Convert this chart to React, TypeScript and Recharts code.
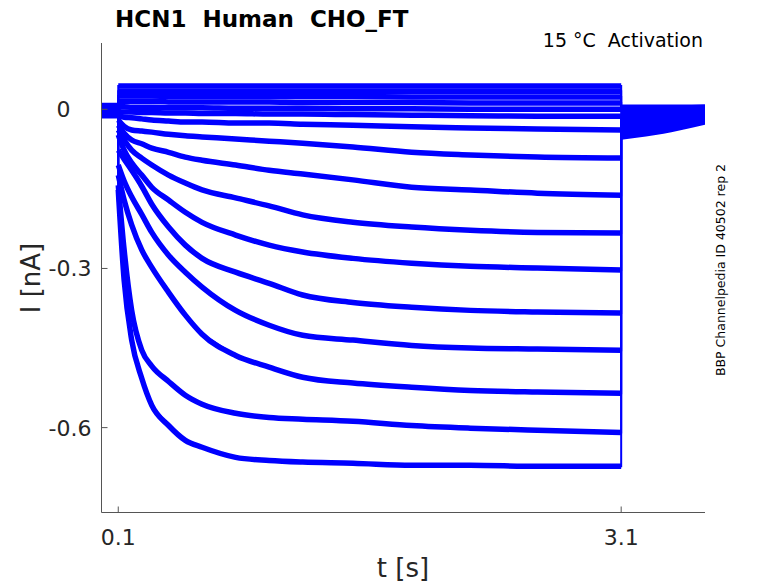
import { LineChart, Line, XAxis, YAxis } from 'recharts'

// time base of the recording [s]
const preTimes = [0, 0.1]
const stepTimes = [0.1, 0.135, 0.18, 0.24, 0.3, 0.4, 0.5, 0.6, 0.8, 1.0, 1.2, 1.5, 1.85, 2.2, 2.6, 3.1]
const tailTimes = [3.1, 3.35, 3.6]

// current during the activation step [nA], sweeps ordered from top to bottom
const sweep01 = [0.044, 0.044, 0.044, 0.044, 0.044, 0.044, 0.044, 0.044, 0.044, 0.044, 0.044, 0.044, 0.044, 0.044, 0.044, 0.044]
const sweep02 = [0.034, 0.034, 0.034, 0.034, 0.034, 0.034, 0.034, 0.034, 0.034, 0.034, 0.034, 0.034, 0.034, 0.034, 0.034, 0.034]
const sweep03 = [0.025, 0.025, 0.025, 0.025, 0.025, 0.024, 0.024, 0.024, 0.024, 0.024, 0.024, 0.024, 0.023, 0.023, 0.023, 0.023]
const sweep04 = [0.015, 0.015, 0.015, 0.015, 0.015, 0.014, 0.014, 0.014, 0.014, 0.014, 0.013, 0.013, 0.013, 0.012, 0.012, 0.012]
const sweep05 = [0.005, 0.005, 0.004, 0.004, 0.004, 0.003, 0.003, 0.003, 0.002, 0.002, 0.002, 0.001, 0.001, 0.0, 0.0, 0.0]
const sweep06 = [-0.004, -0.005, -0.005, -0.006, -0.006, -0.007, -0.007, -0.008, -0.008, -0.009, -0.009, -0.01, -0.011, -0.012, -0.013, -0.013]
const sweep07 = [-0.011, -0.015, -0.016, -0.018, -0.02, -0.022, -0.024, -0.024, -0.026, -0.026, -0.028, -0.03, -0.033, -0.035, -0.037, -0.039]
const sweep08 = [-0.02, -0.032, -0.039, -0.041, -0.043, -0.047, -0.05, -0.052, -0.056, -0.06, -0.064, -0.071, -0.081, -0.086, -0.09, -0.092]
const sweep09 = [-0.03, -0.045, -0.058, -0.065, -0.073, -0.081, -0.09, -0.096, -0.105, -0.115, -0.122, -0.133, -0.147, -0.152, -0.158, -0.162]
const sweep10 = [-0.039, -0.058, -0.077, -0.092, -0.105, -0.124, -0.139, -0.152, -0.167, -0.182, -0.199, -0.213, -0.222, -0.228, -0.232, -0.233]
const sweep11 = [-0.048, -0.077, -0.101, -0.124, -0.147, -0.171, -0.194, -0.213, -0.237, -0.256, -0.269, -0.281, -0.29, -0.296, -0.299, -0.303]
const sweep12 = [-0.077, -0.094, -0.115, -0.145, -0.179, -0.222, -0.256, -0.281, -0.307, -0.328, -0.35, -0.364, -0.373, -0.379, -0.382, -0.384]
const sweep13 = [-0.105, -0.135, -0.165, -0.198, -0.232, -0.275, -0.307, -0.335, -0.379, -0.407, -0.426, -0.435, -0.445, -0.45, -0.452, -0.454]
const sweep14 = [-0.124, -0.171, -0.218, -0.265, -0.298, -0.345, -0.388, -0.424, -0.464, -0.486, -0.505, -0.516, -0.524, -0.53, -0.533, -0.535]
const sweep15 = [-0.143, -0.265, -0.379, -0.454, -0.484, -0.513, -0.539, -0.556, -0.573, -0.581, -0.584, -0.588, -0.596, -0.601, -0.605, -0.609]
const sweep16 = [-0.152, -0.322, -0.435, -0.507, -0.558, -0.596, -0.624, -0.637, -0.656, -0.662, -0.665, -0.667, -0.671, -0.671, -0.673, -0.673]

const sweeps = [
  sweep01, sweep02, sweep03, sweep04, sweep05, sweep06, sweep07, sweep08,
  sweep09, sweep10, sweep11, sweep12, sweep13, sweep14, sweep15, sweep16,
]

// holding current before the step, and tail current after it [nA]
const preLevel = [0.004, -0.002, 0.006, -0.008, 0.001, -0.011, 0.003, -0.005, 0.007, -0.003, -0.009, 0.002, -0.006, 0.005, -0.001, -0.012]
const tailStart = [0.004, 0.002, 0.001, -0.001, -0.003, -0.007, -0.011, -0.015, -0.02, -0.024, -0.03, -0.033, -0.039, -0.043, -0.048, -0.052]
const tailMid = [0.004, 0.002, 0.002, 0.001, -0.001, -0.003, -0.007, -0.011, -0.015, -0.019, -0.022, -0.026, -0.03, -0.033, -0.037, -0.041]
const tailEnd = [0.004, 0.004, 0.002, 0.002, 0.001, -0.001, -0.003, -0.005, -0.007, -0.011, -0.013, -0.015, -0.018, -0.02, -0.022, -0.024]

const xTicks = [0.1, 3.1]
const xTickLabels = ['0.1', '3.1']
const yTicks = [-0.6, -0.3, 0]
const yTickLabels = ['-0.6', '-0.3', '0\u00a0\u00a0\u00a0']

const W = 778
const H = 583
const BLUE = '#0000ff'
const AXIS = '#555555'
const FONT = 'DejaVu Sans'

type Row = { t: number; [key: string]: number | null }

// thick keys (s#) break at the voltage jumps, thin keys (j#) draw the jumps
function buildRows(): Row[] {
  const rows: Row[] = []
  const push = (t: number, thick: (i: number) => number | null, thin: (i: number) => number) => {
    const row: Row = { t }
    sweeps.forEach((_, i) => {
      row[`s${i}`] = thick(i)
      row[`j${i}`] = thin(i)
    })
    rows.push(row)
  }
  preTimes.forEach((t) => push(t, (i) => preLevel[i], (i) => preLevel[i]))
  push(0.1, () => null, (i) => preLevel[i])
  stepTimes.forEach((t, k) => push(t, (i) => sweeps[i][k], (i) => sweeps[i][k]))
  push(3.1, () => null, (i) => sweeps[i][stepTimes.length - 1])
  const tails = [tailStart, tailMid, tailEnd]
  tailTimes.forEach((t, k) => push(t, (i) => tails[k][i], (i) => tails[k][i]))
  return rows
}

const data = buildRows()

const YTick = (props: any) => {
  const { x, y, payload } = props
  const label = yTickLabels[yTicks.indexOf(payload.value)]
  return (
    <text x={x} y={y} dy="0.36em" textAnchor="end" fill="#262626" fontSize={22} fontFamily={FONT}>
      {label}
    </text>
  )
}

const XTick = (props: any) => {
  const { x, y, payload } = props
  const label = xTickLabels[xTicks.indexOf(payload.value)]
  return (
    <text x={x} y={y} dy="0.71em" textAnchor="middle" fill="#262626" fontSize={22} fontFamily={FONT}>
      {label}
    </text>
  )
}

export default function App() {
  return (
    <div style={{ position: 'absolute', left: 0, top: 0, width: W, height: H, background: '#fff' }}>
      <LineChart width={W} height={H} data={data} margin={{ top: 43, right: 73, bottom: 0, left: 0 }}>
        <XAxis
          dataKey="t"
          type="number"
          domain={[0, 3.6]}
          ticks={xTicks}
          height={70.5}
          tickSize={-6}
          tickMargin={22.5}
          tick={<XTick />}
          axisLine={{ stroke: AXIS }}
          tickLine={{ stroke: AXIS }}
          allowDataOverflow
        />
        <YAxis
          type="number"
          domain={[-0.76, 0.125]}
          ticks={yTicks}
          width={101.5}
          tickSize={-6}
          tickMargin={16}
          tick={<YTick />}
          axisLine={{ stroke: AXIS }}
          tickLine={{ stroke: AXIS }}
          allowDataOverflow
        />
        {sweeps.map((_, i) => (
          <Line
            key={`j${i}`}
            dataKey={`j${i}`}
            type="linear"
            stroke={BLUE}
            strokeWidth={2}
            dot={false}
            activeDot={false}
            connectNulls
            isAnimationActive={false}
          />
        ))}
        {sweeps.map((_, i) => (
          <Line
            key={`s${i}`}
            dataKey={`s${i}`}
            type="monotone"
            stroke={BLUE}
            strokeWidth={5.5}
            dot={false}
            activeDot={false}
            connectNulls={false}
            isAnimationActive={false}
          />
        ))}
      </LineChart>
      <svg
        width={W}
        height={H}
        style={{ position: 'absolute', left: 0, top: 0, pointerEvents: 'none' }}
        fontFamily={FONT}
      >
        <text x={115} y={27} fontSize={23} fontWeight="bold" fill="#000" xmlSpace="preserve" style={{ whiteSpace: 'pre' }}>
          HCN1  Human  CHO_FT
        </text>
        <text x={703} y={47} fontSize={19} textAnchor="end" fill="#000" xmlSpace="preserve" style={{ whiteSpace: 'pre' }}>
          15 °C  Activation
        </text>
        <text x={403} y={577} fontSize={26} textAnchor="middle" fill="#262626">
          t [s]
        </text>
        <text x={40} y={278} fontSize={26} textAnchor="middle" fill="#262626" transform="rotate(-90 40 278)">
          I [nA]
        </text>
        <text x={725} y={270} fontSize={12.5} textAnchor="middle" fill="#000" transform="rotate(-90 725 270)">
          BBP Channelpedia ID 40502 rep 2
        </text>
      </svg>
    </div>
  )
}
